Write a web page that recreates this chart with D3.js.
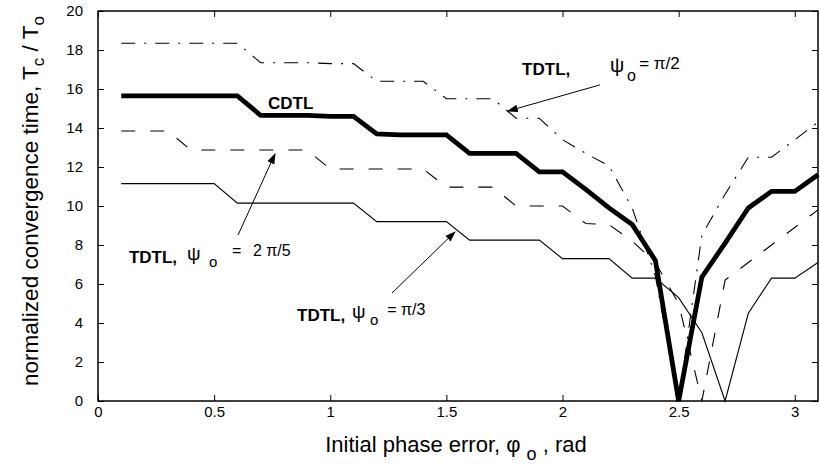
<!DOCTYPE html>
<html>
<head>
<meta charset="utf-8">
<script src="https://cdn.jsdelivr.net/npm/d3@7"></script>
<style>
  body { margin: 0; background: #fff; }
  text { font-family: "Liberation Sans", Arial, Helvetica, sans-serif; fill: #000; }
</style>
</head>
<body>
<script>
// phase error values (rad)
var phi = [0.1,0.2,0.3,0.4,0.5,0.6,0.7,0.8,0.9,1.0,1.1,1.2,1.3,1.4,1.5,1.6,1.7,1.8,1.9,2.0,
           2.1,2.2,2.3,2.4,2.5,2.6,2.7,2.8,2.9,3.0,3.1];

// CDTL (thick line)
var cdtl = [15.65,15.65,15.65,15.65,15.65,15.65,14.65,14.65,14.65,14.6,14.6,13.7,13.65,13.65,13.65,
            12.7,12.7,12.7,11.75,11.75,10.85,9.9,9.05,7.2,0,6.35,8.1,9.9,10.75,10.75,11.6];
// TDTL psi = pi/2 (dash-dot)
var tdtlHalf = [18.35,18.35,18.35,18.35,18.35,18.35,17.35,17.35,17.35,17.3,17.3,16.4,16.4,16.4,
                15.5,15.5,15.5,14.5,14.5,13.4,12.7,12.05,9.9,6.4,0,8.5,10.6,12.5,12.5,13.4,14.3];
// TDTL psi = 2pi/5 (dashed)
var tdtlTwoFifth = [13.85,13.85,13.85,12.87,12.87,12.87,12.87,12.87,12.87,11.9,11.9,11.9,11.9,11.9,
                    10.97,10.97,10.97,10.0,10.0,10.0,9.1,9.05,8.2,7.1,5.0,0,6.2,7.1,8.0,8.9,9.8];
// TDTL psi = pi/3 (thin solid)
var tdtlThird = [11.15,11.15,11.15,11.15,11.15,10.15,10.15,10.15,10.15,10.15,10.15,9.2,9.2,9.2,9.2,
                 8.25,8.25,8.25,8.25,7.3,7.3,7.3,6.3,6.3,5.3,3.5,0,4.5,6.3,6.3,7.1];

var xTicks = [0,0.5,1,1.5,2,2.5,3];
var yTicks = [0,2,4,6,8,10,12,14,16,18,20];

var W = 820, H = 473;
var margin = {top: 11, right: 2, bottom: 72, left: 98};
var width = W - margin.left - margin.right;
var height = H - margin.top - margin.bottom;

var svg = d3.select("body").append("svg")
    .attr("width", W)
    .attr("height", H);

var defs = svg.append("defs");
defs.append("marker")
    .attr("id", "arrow")
    .attr("viewBox", "0 0 10 10")
    .attr("refX", 9).attr("refY", 5)
    .attr("markerWidth", 11).attr("markerHeight", 11)
    .attr("markerUnits", "userSpaceOnUse")
    .attr("orient", "auto")
  .append("path")
    .attr("d", "M0,1.5 L10,5 L0,8.5 Z")
    .attr("fill", "#000");

var g = svg.append("g")
    .attr("transform", "translate(" + margin.left + "," + margin.top + ")");

var x = d3.scaleLinear().domain([0, 3.1]).range([0, width]);
var y = d3.scaleLinear().domain([0, 20]).range([height, 0]);

// axes: ticks pointing inward on all four sides
var fmt = function(d) { return d; };
g.append("g")
    .attr("transform", "translate(0," + height + ")")
    .call(d3.axisBottom(x).tickValues(xTicks).tickSizeInner(-6).tickSizeOuter(0).tickPadding(5).tickFormat(fmt))
    .call(function(a) { a.select(".domain").remove(); a.selectAll("text").style("font-size", "15px"); });
g.append("g")
    .call(d3.axisTop(x).tickValues(xTicks).tickSizeInner(-6).tickSizeOuter(0).tickFormat(""))
    .call(function(a) { a.select(".domain").remove(); });
g.append("g")
    .call(d3.axisLeft(y).tickValues(yTicks).tickSizeInner(-6).tickSizeOuter(0).tickPadding(15).tickFormat(fmt))
    .call(function(a) { a.select(".domain").remove(); a.selectAll("text").style("font-size", "15px"); });
g.append("g")
    .attr("transform", "translate(" + width + ",0)")
    .call(d3.axisRight(y).tickValues(yTicks).tickSizeInner(-6).tickSizeOuter(0).tickFormat(""))
    .call(function(a) { a.select(".domain").remove(); });
g.selectAll(".tick line").attr("stroke", "#000").attr("stroke-width", 1);

g.append("rect")
    .attr("width", width).attr("height", height)
    .attr("fill", "none").attr("stroke", "#000").attr("stroke-width", 1.5);

// curves
var line = d3.line()
    .x(function(d) { return x(d[0]); })
    .y(function(d) { return y(d[1]); });

var series = [
  {vals: tdtlThird, w: 1.1, dash: null},
  {vals: tdtlTwoFifth, w: 1.1, dash: "14,15"},
  {vals: tdtlHalf, w: 1.1, dash: "14,9,2,9"},
  {vals: cdtl, w: 4.8, dash: null}
];
series.forEach(function(s) {
  g.append("path")
      .datum(phi.map(function(p, i) { return [p, s.vals[i]]; }))
      .attr("d", line)
      .attr("fill", "none")
      .attr("stroke", "#000")
      .attr("stroke-width", s.w)
      .attr("stroke-linejoin", "miter")
      .attr("stroke-dasharray", s.dash);
});

// annotation arrows
var arrows = [
  [[2.161, 16.21], [1.765, 14.87]],
  [[0.603, 8.51], [0.762, 12.67]],
  [[1.266, 5.54], [1.537, 8.67]]
];
arrows.forEach(function(a) {
  g.append("line")
      .attr("x1", x(a[0][0])).attr("y1", y(a[0][1]))
      .attr("x2", x(a[1][0])).attr("y2", y(a[1][1]))
      .attr("stroke", "#000").attr("stroke-width", 1)
      .attr("marker-end", "url(#arrow)");
});

// labels
function label(xv, yv, txt, size, bold) {
  g.append("text")
      .attr("x", x(xv)).attr("y", y(yv))
      .style("font-size", size + "px")
      .style("font-weight", bold ? "bold" : "normal")
      .text(txt);
}
label(0.732, 14.97, "CDTL", 17, true);

label(1.826, 16.72, "TDTL,", 17, true);
label(2.204, 16.87, "\u03c8", 20);
label(2.278, 16.41, "o", 16);
label(2.33, 17.03, "= \u03c0/2", 17);

label(0.133, 7.08, "TDTL,", 17, true);
label(0.383, 7.23, "\u03c8", 19);
label(0.478, 6.87, "o", 15);
label(0.577, 7.44, "=", 16);
label(0.667, 7.44, "2 \u03c0/5", 16);

label(0.857, 4.10, "TDTL,", 17, true);
label(1.094, 4.26, "\u03c8", 19);
label(1.171, 3.90, "o", 15);
label(1.245, 4.41, "= \u03c0/3", 16);

// axis titles
var xt = svg.append("text")
    .attr("x", margin.left + width / 2 - 2)
    .attr("y", 452)
    .attr("text-anchor", "middle")
    .style("font-size", "22px");
xt.append("tspan").text("Initial phase error, \u03c6 ");
xt.append("tspan").attr("dy", 8).style("font-size", "18px").text("o");
xt.append("tspan").attr("dy", -8).text(" , rad");

var yt = svg.append("text")
    .attr("transform", "translate(38,201) rotate(-90)")
    .attr("text-anchor", "middle")
    .style("font-size", "22.5px");
yt.append("tspan").text("normalized convergence time, T");
yt.append("tspan").attr("dy", 6).style("font-size", "17px").text("c");
yt.append("tspan").attr("dy", -6).text(" / T");
yt.append("tspan").attr("dy", 6).style("font-size", "17px").text("o");
</script>
</body>
</html>
